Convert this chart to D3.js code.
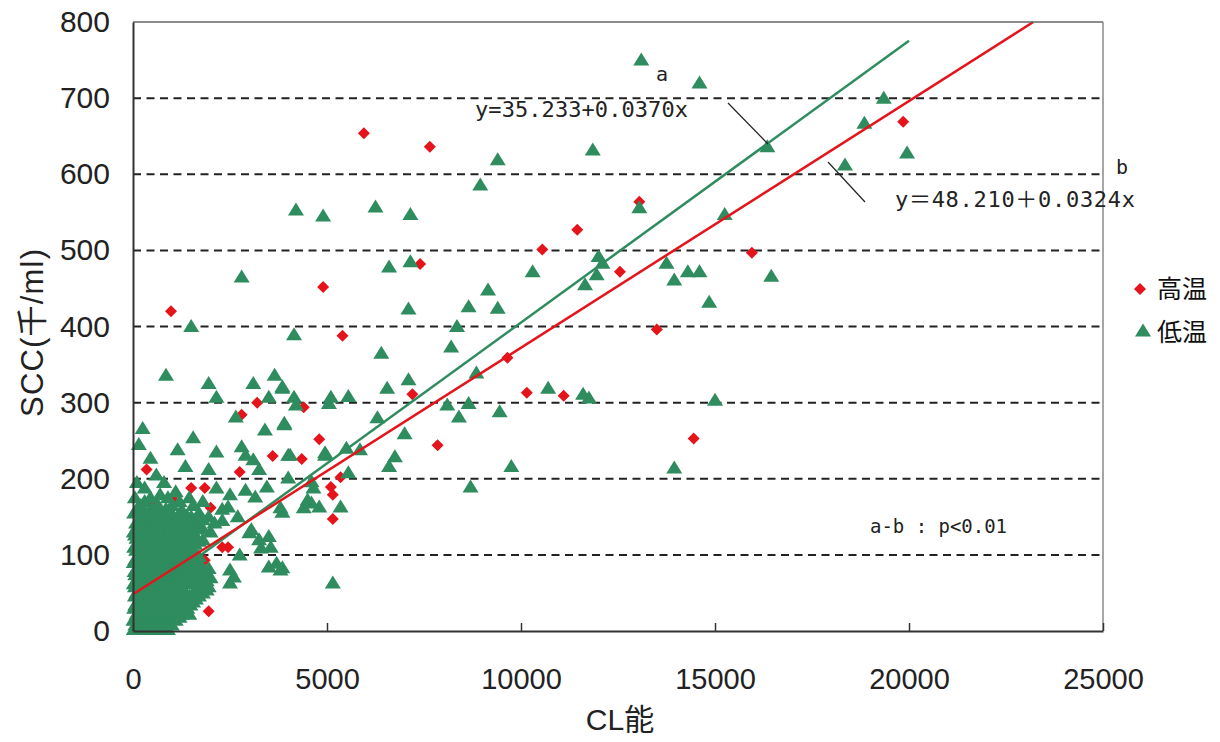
<!DOCTYPE html>
<html><head><meta charset="utf-8">
<script src="https://cdn.jsdelivr.net/npm/d3@7"></script>
<style>body{margin:0;background:#fff}svg{display:block}</style>
</head><body>
<svg id="c" width="1220" height="742"></svg>
<script>
const seriesNames = ["高温", "低温"];
const xTicks = [0, 5000, 10000, 15000, 20000, 25000];
const yTicks = [0, 100, 200, 300, 400, 500, 600, 700, 800];
const gridValues = [100, 200, 300, 400, 500, 600, 700];
// regression: [intercept, slope, xEnd]
const fitLow = [35.233, 0.0370, 20000];
const fitHigh = [48.210, 0.0324, 23203];

const highTemp = [
 [5950,654],[7650,636],[11450,527],[10550,501],[13050,564],[7400,482],[12550,472],[15950,497],
 [19850,669],[4900,452],[980,420],[5400,388],[13500,396],[9650,359],[10150,313],[11100,309],
 [7200,311],[4400,294],[3200,300],[2800,284],[4800,252],[3600,230],[4350,226],[350,212],
 [2750,209],[1500,188],[1850,188],[2000,162],[5100,189],[5150,179],[5150,147],[5350,202],
 [170,120],[2300,110],[2450,110],[1950,26],[7850,244],[14450,253],[550,168],[1050,172],[1850,93],
 [100,60],[300,90],[600,40],[900,130],[1200,70],[150,20],[700,150],[400,110]
];

const lowTemp = [
 [13100,750],[14600,720],[19350,700],[18850,667],[19950,628],[18350,612],[16350,636],[11850,632],
 [9400,619],[8950,586],[13050,556],[4200,553],[4900,545],[6250,557],[7150,547],[7150,485],
 [6600,478],[2800,465],[12000,492],[12100,483],[11950,468],[11650,455],[10300,472],[13750,483],
 [13950,461],[14300,472],[14600,472],[16450,466],[15250,547],[14850,432],[1500,400],[7100,423],
 [8350,400],[4150,389],[6400,365],[8200,373],[850,336],[1950,325],[3100,325],[3650,336],
 [3850,319],[5550,308],[6550,319],[7100,330],[9150,448],[8650,426],[9400,424],[8850,339],
 [10700,319],[11600,311],[11750,306],[15000,303],[8100,297],[8650,299],[8400,281],[9450,288],
 [5050,299],[4200,297],[3850,321],[3900,273],[6300,280],[7000,259],[4000,231],[4950,231],
 [5500,240],[5850,238],[6750,229],[6600,216],[9750,216],[13950,214],[5550,208],[4000,201],
 [4600,196],[4650,188],[4500,172],[4800,163],[5350,163],[8700,189],[3850,156],[3850,83],[5150,63],
 [250,266],[1550,254],[1150,238],[2150,235],[2800,242],[450,227],[1350,216],[1950,212],
 [3250,212],[3400,264],[3900,271],[300,188],[700,179],[1100,183],[2150,188],[2900,185],
 [3150,176],[3450,189],[200,162],[1250,159],[2450,163],[2700,150],[3050,133],[3500,124],
 [3800,162],[2750,100],[3300,109],[3500,84],[3800,80],[2500,80],[2500,63],[2150,307],
 [3500,307],[4150,307],[5100,307],[2650,281],[3100,225],[2900,231],[4050,231],[4950,234],
 [2500,179],[4400,162],[4600,168],[3000,129],[3250,120],[3550,110],[3700,89],[2600,71],
 [1600,140],[2000,130],[1800,120],[2300,145],[1400,150],
 [20,2],[150,2],[300,2],[450,2],[600,2],[750,2],[900,2],
 [60,8],[250,8],[420,8],[580,8],[800,8],[1000,8],
 [10,14],[200,14],[380,14],[550,14],[700,14],[900,14],[1100,14],
 [90,22],[280,22],[460,22],[650,22],[850,22],[1050,22],[1250,22],[1450,22],
 [30,30],[220,30],[400,30],[600,30],[780,30],[980,30],[1200,30],[1400,30],
 [120,38],[330,38],[520,38],[720,38],[900,38],[1100,38],[1300,38],[1550,38],
 [50,46],[250,46],[450,46],[650,46],[850,46],[1050,46],[1250,46],[1450,46],[1700,46],
 [150,54],[350,54],[550,54],[750,54],[950,54],[1150,54],[1600,54],[1900,54],
 [20,62],[260,62],[480,62],[680,62],[880,62],[1080,62],[1350,62],[1550,62],[1800,62],
 [120,70],[380,70],[580,70],[780,70],[980,70],[1200,70],[1450,70],[1700,70],[2000,70],
 [40,78],[280,78],[500,78],[700,78],[900,78],[1100,78],[1300,78],[1550,78],[1850,78],
 [160,86],[420,86],[620,86],[820,86],[1020,86],[1250,86],[1500,86],[1750,86],
 [60,94],[300,94],[540,94],[760,94],[950,94],[1150,94],[1400,94],[1650,94],
 [200,102],[450,102],[680,102],[880,102],[1100,102],[1350,102],[1600,102],
 [30,110],[330,110],[580,110],[800,110],[1000,110],[1250,110],[1500,110],
 [150,118],[420,118],[700,118],[950,118],[1200,118],[1450,118],[1700,118],
 [50,126],[300,126],[600,126],[850,126],[1300,126],[1600,126],
 [200,134],[500,134],[750,134],[1100,134],[1400,134],[1800,134],
 [80,142],[400,142],[900,142],[1250,142],[1650,142],[2100,142],
 [250,150],[650,150],[1050,150],[1500,150],[1950,150],
 [100,160],[500,160],[850,160],[2300,160],[300,170],[1200,170],[1800,170],
 [100,5],[350,5],[520,5],[680,5],[850,5],
 [120,18],[300,18],[480,18],[620,18],[800,18],[1000,18],[1200,18],
 [180,26],[360,26],[540,26],[720,26],[920,26],[1120,26],[1320,26],
 [60,34],[280,34],[460,34],[660,34],[840,34],[1040,34],[1250,34],[1480,34],
 [160,42],[360,42],[560,42],[760,42],[960,42],[1160,42],[1400,42],[1620,42],
 [90,50],[300,50],[500,50],[700,50],[900,50],[1100,50],[1350,50],[1800,50],
 [50,58],[220,58],[420,58],[620,58],[820,58],[1020,58],[1250,58],[1700,58],[1950,58],
 [170,66],[330,66],[530,66],[730,66],[930,66],[1130,66],[1600,66],[1900,66],
 [60,74],[250,74],[460,74],[660,74],[860,74],[1060,74],[1300,74],[1550,74],[1850,74],
 [120,82],[350,82],[560,82],[760,82],[960,82],[1180,82],[1400,82],[1650,82],[1950,82],
 [20,90],[230,90],[470,90],[700,90],[880,90],[1100,90],[1320,90],[1580,90],
 [130,98],[380,98],[620,98],[820,98],[1030,98],[1250,98],[1500,98],[1700,98],
 [80,106],[260,106],[520,106],[740,106],[950,106],[1180,106],[1420,106],
 [230,114],[500,114],[760,114],[1080,114],[1330,114],[1600,114],
 [90,122],[360,122],[640,122],[880,122],[1120,122],[1380,122],
 [20,130],[250,130],[450,130],[680,130],[980,130],[1200,130],[1500,130],
 [120,138],[340,138],[620,138],[1000,138],[1300,138],[1550,138],
 [200,146],[520,146],[800,146],[1150,146],[1400,146],[1800,146],
 [30,155],[380,155],[720,155],[950,155],[1300,155],[1700,155],
 [200,165],[650,165],[1000,165],[1550,165],
 [50,175],[450,175],[900,175],[1450,175],
 [100,195],[800,195],[600,205],[150,245]
];

const svg = d3.select("#c");
const x = d3.scaleLinear().domain([0, 25000]).range([133, 1103]);
const y = d3.scaleLinear().domain([0, 800]).range([631, 22]);
const green = "#2e8c5e", red = "#e5141b";
const numFont = "'Liberation Sans', Arial, sans-serif";
const cjk = "'Liberation Sans','Noto Sans CJK JP',sans-serif";

// grid
svg.append("g").selectAll("line").data(gridValues).join("line")
  .attr("x1", x(0)).attr("x2", x(25000))
  .attr("y1", d => y(d)).attr("y2", d => y(d))
  .attr("stroke", "#222").attr("stroke-width", 2).attr("stroke-dasharray", "8,5.5");

// markers
const diamond = "M0,-6L6,0L0,6L-6,0Z";
const tri = "M0,-7.5L8,5.5L-8,5.5Z";
svg.append("g").selectAll("path").data(highTemp).join("path")
  .attr("d", diamond).attr("fill", red)
  .attr("transform", d => `translate(${x(d[0])},${y(d[1])})`);
svg.append("g").selectAll("path").data(lowTemp).join("path")
  .attr("d", tri).attr("fill", green)
  .attr("transform", d => `translate(${x(d[0])},${y(d[1])})`);

// fit lines
const line = d3.line().x(d => x(d[0])).y(d => y(d[1]));
function fitPts(f) { return [[0, f[0]], [f[2], f[0] + f[1] * f[2]]]; }
svg.append("path").attr("d", line(fitPts(fitLow))).attr("stroke", green).attr("stroke-width", 2.5).attr("fill", "none");
svg.append("path").attr("d", line(fitPts(fitHigh))).attr("stroke", red).attr("stroke-width", 2.5).attr("fill", "none");

// frame
svg.append("line").attr("x1", x(0)).attr("x2", x(25000)).attr("y1", y(800)).attr("y2", y(800)).attr("stroke", "#666").attr("stroke-width", 1.5);
svg.append("line").attr("x1", x(25000)).attr("x2", x(25000)).attr("y1", y(800)).attr("y2", y(0)).attr("stroke", "#888").attr("stroke-width", 1.5);

// axes
const gx = svg.append("g").attr("transform", `translate(0,${y(0)})`)
  .call(d3.axisBottom(x).tickValues(xTicks).tickFormat(d3.format("d")).tickSizeInner(-8).tickSizeOuter(0).tickPadding(37));
gx.select(".domain").attr("stroke", "#333").attr("stroke-width", 2);
gx.selectAll(".tick line").attr("stroke", "#333").attr("stroke-width", 1.5);
gx.selectAll("text").attr("font-family", numFont).attr("font-size", 29).attr("fill", "#222");

const gy = svg.append("g").attr("transform", `translate(${x(0)},0)`)
  .call(d3.axisLeft(y).tickValues(yTicks).tickFormat(d3.format("d")).tickSize(0).tickPadding(23));
gy.select(".domain").attr("stroke", "#333").attr("stroke-width", 2);
gy.selectAll("text").attr("font-family", numFont).attr("font-size", 30).attr("fill", "#222");

// axis titles
svg.append("text").attr("transform", "translate(43,333) rotate(-90)")
  .attr("text-anchor", "middle").attr("font-family", cjk).attr("font-size", 31).attr("fill", "#222")
  .attr("textLength", 168).text("SCC(千/ml)");
svg.append("text").attr("x", 620).attr("y", 730).attr("text-anchor", "middle")
  .attr("font-family", cjk).attr("font-size", 30).attr("fill", "#222").text("CL能");

// legend
const lg = svg.append("g");
lg.append("path").attr("d", diamond).attr("fill", red).attr("transform", "translate(1140,289)");
lg.append("path").attr("d", tri).attr("fill", green).attr("transform", "translate(1143,331)");
lg.append("text").attr("x", 1157).attr("y", 298).attr("font-family", "'Noto Sans CJK JP',sans-serif").attr("font-size", 25).attr("fill", "#111").text(seriesNames[0]);
lg.append("text").attr("x", 1157).attr("y", 341).attr("font-family", "'Noto Sans CJK JP',sans-serif").attr("font-size", 25).attr("fill", "#111").text(seriesNames[1]);

// annotations
const mono = "'DejaVu Sans Mono','Noto Sans CJK JP',monospace";
svg.append("text").attr("x", 662).attr("y", 81).attr("text-anchor", "middle").attr("font-family", mono).attr("font-size", 20).attr("fill", "#222").text("a");
svg.append("text").attr("x", 475).attr("y", 117).attr("font-family", mono).attr("font-size", 22).attr("fill", "#222").attr("textLength", 213).text("y=35.233+0.0370x");
svg.append("line").attr("x1", 728).attr("y1", 103).attr("x2", 768).attr("y2", 144).attr("stroke", "#222").attr("stroke-width", 1.2);
svg.append("text").attr("x", 1122).attr("y", 174).attr("text-anchor", "middle").attr("font-family", mono).attr("font-size", 20).attr("fill", "#222").text("b");
svg.append("text").attr("x", 895).attr("y", 207).attr("font-family", mono).attr("font-size", 22).attr("fill", "#222").attr("textLength", 240).text("y＝48.210＋0.0324x");
svg.append("line").attr("x1", 828).attr("y1", 162).attr("x2", 865).attr("y2", 202).attr("stroke", "#222").attr("stroke-width", 1.2);
svg.append("text").attr("x", 870).attr("y", 533).attr("font-family", mono).attr("font-size", 19).attr("fill", "#222").attr("textLength", 137).text("a-b : p<0.01");
</script>
</body></html>
